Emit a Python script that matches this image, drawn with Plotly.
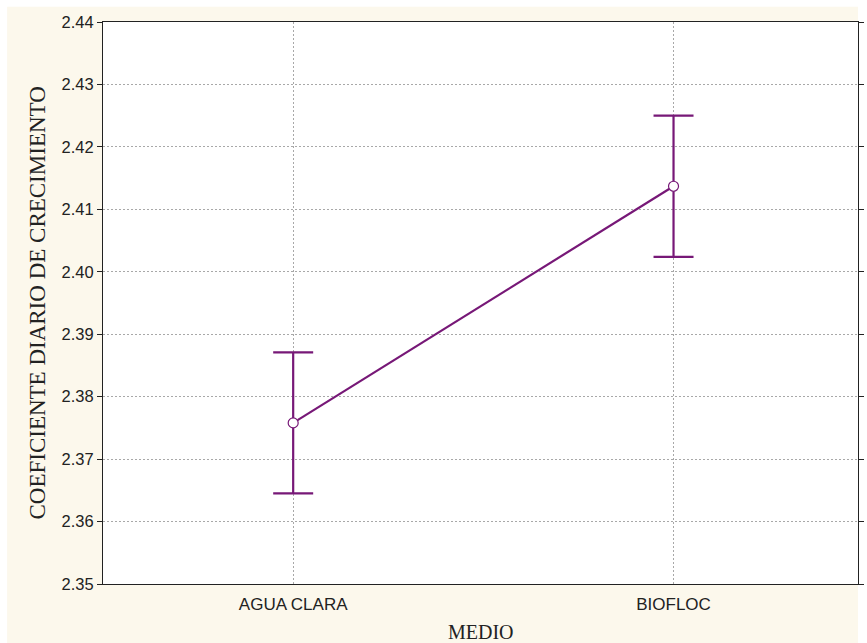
import plotly.graph_objects as go

# Growth coefficient means with error bars per culture medium
medios = ["AGUA CLARA", "BIOFLOC"]
medias = [2.3758, 2.4137]
errores = [0.0113, 0.0113]
y_ticks = [2.35, 2.36, 2.37, 2.38, 2.39, 2.40, 2.41, 2.42, 2.43, 2.44]

PURPLE = "#771877"
CREAM = "#FCF8EC"
GRID = "#A8A8A8"

fig = go.Figure()
fig.add_trace(go.Scatter(
    x=[0, 1],
    y=medias,
    mode="lines+markers",
    line=dict(color=PURPLE, width=2.2),
    marker=dict(size=10, color="white", line=dict(color=PURPLE, width=1.2)),
    error_y=dict(type="data", array=errores, visible=True,
                 color=PURPLE, thickness=2.2, width=20),
    showlegend=False,
    cliponaxis=False,
))

# Cream page panel with a white plotting area on top of it
fig.add_shape(type="rect", xref="paper", yref="paper",
              x0=-0.127, x1=1.0, y0=-0.11, y1=1.027,
              fillcolor=CREAM, line_width=0, layer="below")
fig.add_shape(type="rect", xref="paper", yref="paper",
              x0=0, x1=1, y0=0, y1=1,
              fillcolor="white", line_width=0, layer="below")

x_tick_font = dict(family="Liberation Sans, Arial, sans-serif", size=17, color="#222222")
y_tick_font = dict(family="Liberation Sans, Arial, sans-serif", size=16.5, color="#222222")

fig.update_xaxes(
    range=[-0.5, 1.485],
    tickvals=[0, 1],
    ticktext=medios,
    showgrid=True, gridcolor=GRID, griddash="2px,2px", gridwidth=1,
    showline=True, linecolor="#222222", linewidth=1.2, mirror=True,
    ticks="", zeroline=False, ticklabelstandoff=4,
    tickfont=x_tick_font,
)
fig.update_yaxes(
    range=[2.35, 2.44],
    tickvals=y_ticks,
    ticktext=[f"{v:.2f}" for v in y_ticks],
    showgrid=True, gridcolor=GRID, griddash="2px,2px", gridwidth=1,
    showline=True, linecolor="#222222", linewidth=1.2, mirror="ticks",
    ticks="outside", ticklen=5, tickcolor="#222222",
    zeroline=False,
    tickfont=y_tick_font,
)

fig.add_annotation(text="MEDIO", xref="paper", yref="paper",
                   x=0.5, y=-0.085, showarrow=False,
                   font=dict(family="Liberation Serif, Times New Roman, serif", size=20, color="#222222"),
                   xanchor="center", yanchor="middle")
fig.add_annotation(text="COEFICIENTE DIARIO DE CRECIMIENTO", xref="paper", yref="paper",
                   x=-0.088, y=0.5, showarrow=False,
                   font=dict(family="Liberation Serif, Times New Roman, serif", size=23, color="#222222"),
                   textangle=-90, xanchor="center", yanchor="middle")

fig.update_layout(
    width=867, height=643,
    margin=dict(l=103, r=3, t=22, b=59),
    paper_bgcolor="white",
    plot_bgcolor="white",
)

fig.write_html("out.html")
